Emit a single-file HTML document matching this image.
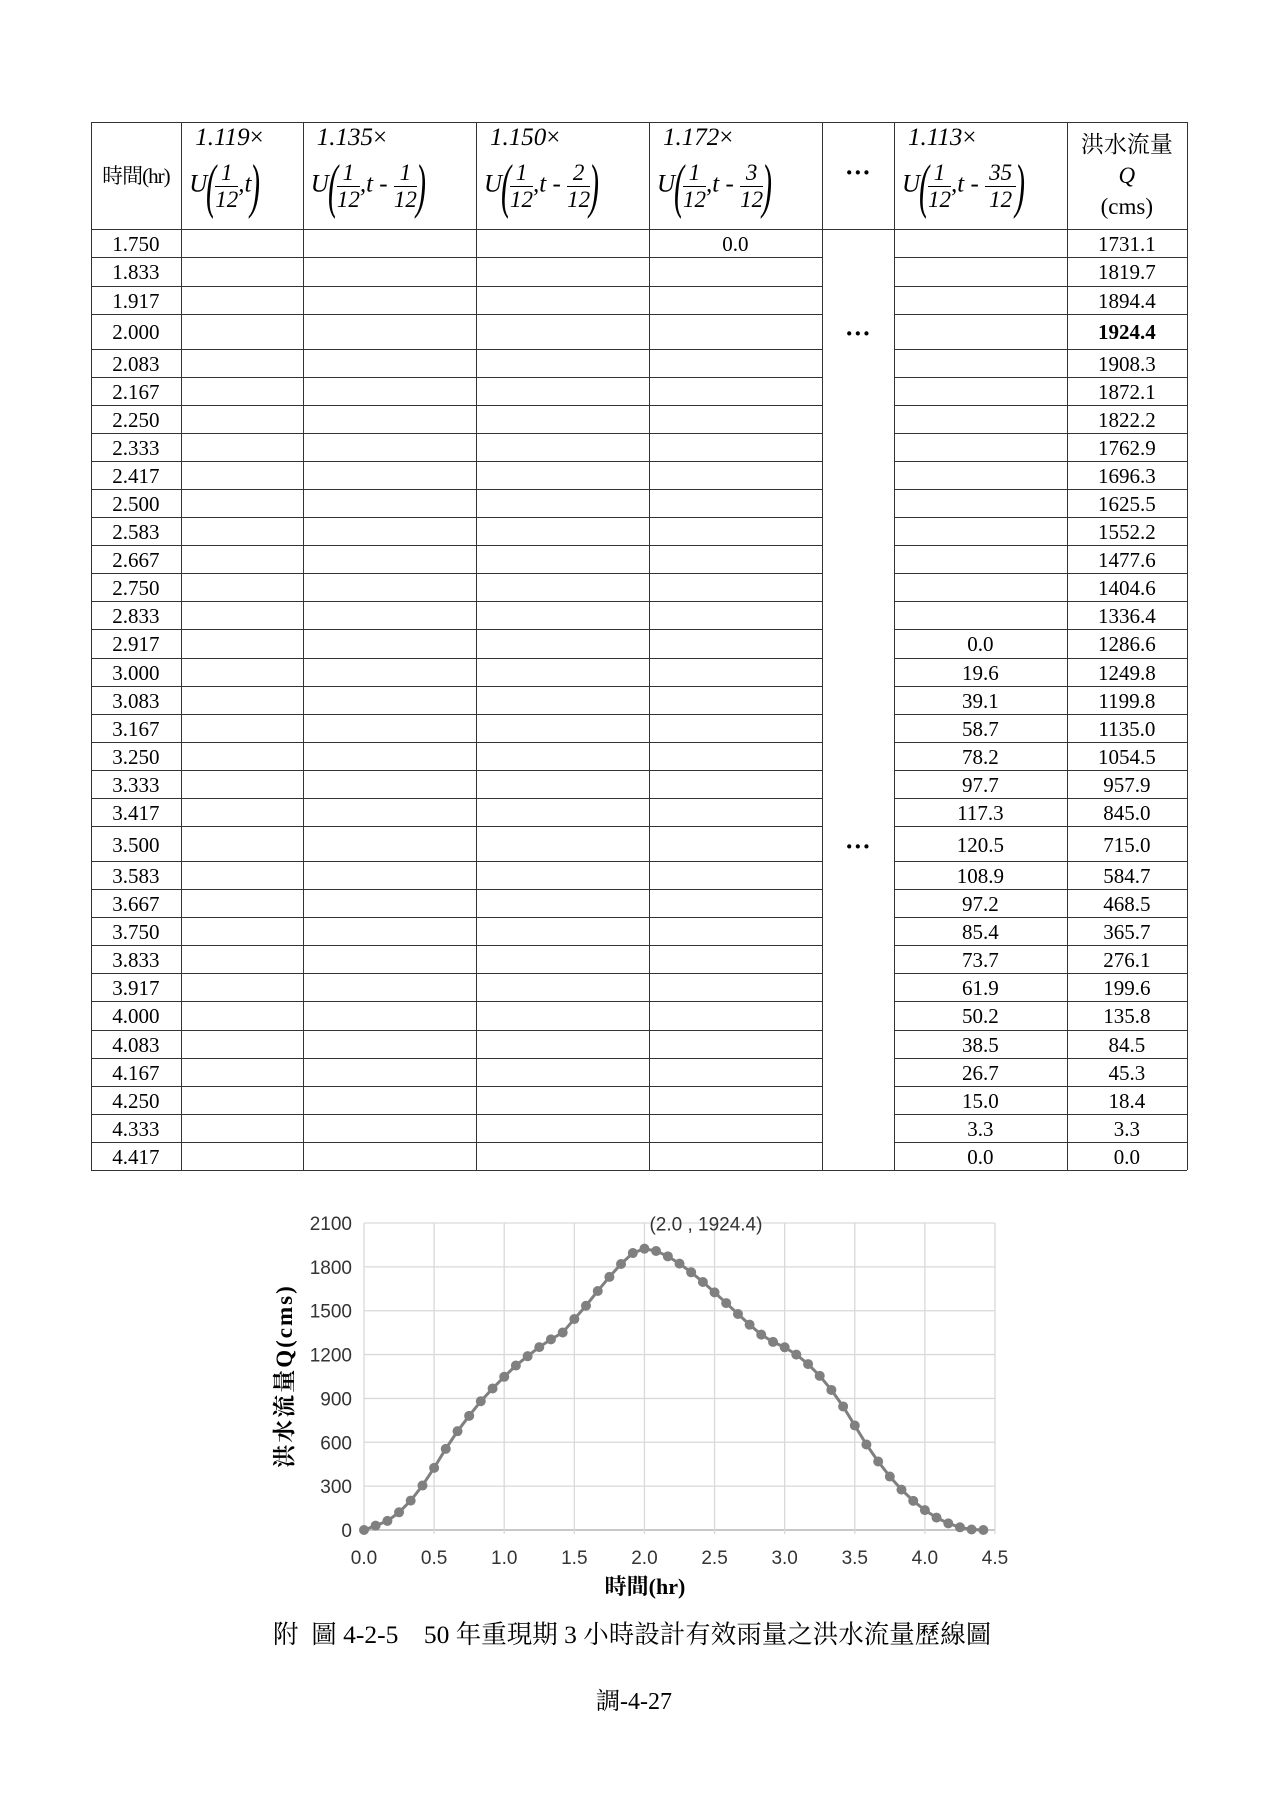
<!DOCTYPE html>
<html><head><meta charset="utf-8">
<style>
body{margin:0;width:1273px;height:1800px;background:#fff;position:relative;font-family:"Liberation Serif","Noto Serif CJK SC","Noto Sans CJK TC",serif;color:#000;overflow:hidden}
.ab{position:absolute}
.hl{position:absolute;height:0;border-top:1.3px solid #333}
.vl{position:absolute;width:0;border-left:1.3px solid #333}
.cell{position:absolute;text-align:center;font-size:21px;line-height:20px}
.frac{display:inline-block;vertical-align:middle;text-align:center;font-style:italic;font-size:23px;line-height:26px}
.frac span{display:block}
.frac .n{border-bottom:1px solid #000;padding:0 4px}
.par{display:inline-block;vertical-align:middle;font-size:60px;font-weight:100;transform:scaleX(0.5);line-height:60px;margin:0 -6px}
.form{position:absolute;white-space:nowrap;font-size:25px;font-style:italic}
</style></head><body>
<div id="tbl"></div>
<svg id="chart" class="ab" style="left:0;top:0" width="1273" height="1800"></svg>
<div class="ab" style="left:273px;top:1615px;font-size:25.5px;white-space:nowrap;font-family:'Liberation Serif','Noto Serif CJK TC','Noto Sans CJK TC',serif">附&nbsp; 圖 4-2-5&nbsp;&nbsp;&nbsp; 50 年重現期 3 小時設計有效雨量之洪水流量歷線圖</div>
<div class="ab" style="left:596px;top:1681px;font-size:24px;font-family:'Liberation Serif','Noto Serif CJK TC','Noto Sans CJK TC',serif">調-4-27</div>
<script>
const times=["1.750","1.833","1.917","2.000","2.083","2.167","2.250","2.333","2.417","2.500","2.583","2.667","2.750","2.833","2.917","3.000","3.083","3.167","3.250","3.333","3.417","3.500","3.583","3.667","3.750","3.833","3.917","4.000","4.083","4.167","4.250","4.333","4.417"];
const col35=["","","","","","","","","","","","","","","0.0","19.6","39.1","58.7","78.2","97.7","117.3","120.5","108.9","97.2","85.4","73.7","61.9","50.2","38.5","26.7","15.0","3.3","0.0"];
const qTable=["1731.1","1819.7","1894.4","1924.4","1908.3","1872.1","1822.2","1762.9","1696.3","1625.5","1552.2","1477.6","1404.6","1336.4","1286.6","1249.8","1199.8","1135.0","1054.5","957.9","845.0","715.0","584.7","468.5","365.7","276.1","199.6","135.8","84.5","45.3","18.4","3.3","0.0"];
const coefs=["1.119","1.135","1.150","1.172","1.113"];
const lags=["","1","2","3","35"];
const T=document.getElementById('tbl');
const X=[90.6,181.2,302.8,476,649,821.7,894,1066.7,1187];
const top0=121.6, hb=229.4;
function add(cls,st,html){const d=document.createElement('div');d.className=cls;d.setAttribute('style',st);if(html!==undefined)d.innerHTML=html;T.appendChild(d);return d;}
let ys=[hb];
times.forEach((t,i)=>{const h=(t==="2.000"||t==="3.500")?35.4:28.05;ys.push(ys[ys.length-1]+h);});
const bot=ys[ys.length-1];
let l=add('hl',`left:${X[0]}px;top:${top0}px;width:${X[8]-X[0]}px`);
X.forEach((x,i)=>{let v=add('vl',`left:${x}px;top:${top0}px;height:${bot-top0}px`);});
ys.forEach((y,i)=>{
  const full=(i===0||i===ys.length-1);
  if(full){let h=add('hl',`left:${X[0]}px;top:${y}px;width:${X[8]-X[0]}px`);}
  else{let h1=add('hl',`left:${X[0]}px;top:${y}px;width:${X[5]-X[0]}px`);
       let h2=add('hl',`left:${X[6]}px;top:${y}px;width:${X[8]-X[6]}px`);}
});
let hc=add('cell',`left:${X[0]}px;top:166px;width:${X[1]-X[0]}px;font-size:21px;letter-spacing:-1px;font-family:'Liberation Serif','Noto Serif CJK TC','Noto Sans CJK TC',serif`,'時間(hr)');

const colIdx=[1,2,3,4,6];
colIdx.forEach((ci,k)=>{
  let c=add('form',`left:${X[ci]+14}px;top:124px`,coefs[k]+'<span style="font-style:normal">×</span>');
  
  const lag=lags[k]?`,t - <span class="frac"><span class="n">${lags[k]}</span><span>12</span></span>`:',t';
  let f=add('form',`left:${X[ci]+8}px;top:156px`,`U<span class="par">(</span><span class="frac"><span class="n">1</span><span>12</span></span>${lag}<span class="par">)</span>`);
  
});
let dh=add('cell',`left:${X[5]}px;top:163px;width:${X[6]-X[5]}px;font-size:26px;font-weight:bold`,'···');

let qh=add('cell',`left:${X[7]}px;top:129px;width:${X[8]-X[7]}px;font-size:23px;line-height:31px;font-family:'Liberation Serif','Noto Serif CJK TC','Noto Sans CJK TC',serif`,'洪水流量<br><i>Q</i><br>(cms)');

times.forEach((t,i)=>{
  const y0=ys[i],y1=ys[i+1],cy=(y0+y1)/2-9;
  let a=add('cell',`left:${X[0]}px;top:${cy}px;width:${X[1]-X[0]}px`,t);
  if(i===0){let z=add('cell',`left:${X[4]}px;top:${cy}px;width:${X[5]-X[4]}px`,'0.0');}
  if(col35[i]){let b=add('cell',`left:${X[6]}px;top:${cy}px;width:${X[7]-X[6]}px`,col35[i]);}
  let q=add('cell',`left:${X[7]}px;top:${cy}px;width:${X[8]-X[7]}px;${t==="2.000"?'font-weight:bold':''}`,qTable[i]);
  if(t==="2.000"||t==="3.500"){let d=add('cell',`left:${X[5]}px;top:${cy+2}px;width:${X[6]-X[5]}px;font-size:26px;font-weight:bold`,'···');}
});
</script>
<script>
const chartT=[0,0.083,0.167,0.25,0.333,0.417,0.5,0.583,0.667,0.75,0.833,0.917,1.0,1.083,1.167,1.25,1.333,1.417,1.5,1.583,1.667,1.75,1.833,1.917,2.0,2.083,2.167,2.25,2.333,2.417,2.5,2.583,2.667,2.75,2.833,2.917,3.0,3.083,3.167,3.25,3.333,3.417,3.5,3.583,3.667,3.75,3.833,3.917,4.0,4.083,4.167,4.25,4.333,4.417];
const chartQ=[0,30,62,121,201,304,425,555,676,781,881,968,1048,1125,1189,1251,1304,1351,1443,1534,1635,1731.1,1819.7,1894.4,1924.4,1908.3,1872.1,1822.2,1762.9,1696.3,1625.5,1552.2,1477.6,1404.6,1336.4,1286.6,1249.8,1199.8,1135.0,1054.5,957.9,845.0,715.0,584.7,468.5,365.7,276.1,199.6,135.8,84.5,45.3,18.4,3.3,0.0];
const yTicks=[0,300,600,900,1200,1500,1800,2100];
const xTicks=[0,0.5,1.0,1.5,2.0,2.5,3.0,3.5,4.0,4.5];
const peakLabel="(2.0 , 1924.4)";
const S=document.getElementById('chart'),NS='http://www.w3.org/2000/svg';
const px0=364,px1=995,py0=1530,py1=1223;
const sx=v=>px0+(v-0)/4.5*(px1-px0);
const sy=v=>py0-(v-0)/2100*(py0-py1);
function el(tag,attrs,txt){const e=document.createElementNS(NS,tag);for(const k in attrs)e.setAttribute(k,attrs[k]);if(txt!==undefined)e.textContent=txt;S.appendChild(e);return e;}
yTicks.forEach(v=>{
  const g=el('line',{x1:px0,x2:px1,y1:sy(v),y2:sy(v),stroke:v===0?'#a6a6a6':'#d9d9d9','stroke-width':1.3});
  
  const t=el('text',{x:px0-12,y:sy(v)+7,'text-anchor':'end','font-size':19,'font-family':'Liberation Sans Narrow, Liberation Sans, sans-serif',fill:'#333'},String(v));
  
});
xTicks.forEach(v=>{
  const g=el('line',{x1:sx(v),x2:sx(v),y1:py1,y2:py0+4,stroke:'#d9d9d9','stroke-width':1.3});
  
  const t=el('text',{x:sx(v),y:py0+34,'text-anchor':'middle','font-size':19,'font-family':'Liberation Sans Narrow, Liberation Sans, sans-serif',fill:'#333'},v.toFixed(1));
  
});
const line=el('polyline',{points:chartT.map((t,i)=>sx(t)+','+sy(chartQ[i])).join(' '),fill:'none',stroke:'#808080','stroke-width':3});

chartT.forEach((t,i)=>{
  const c=el('circle',{cx:sx(t),cy:sy(chartQ[i]),r:5,fill:'#808080'});
  
});
const pk=el('text',{x:sx(2.0)+5,y:sy(1924.4)-18,'font-size':19,'font-family':'Liberation Sans Narrow, Liberation Sans, sans-serif',fill:'#333'},peakLabel);

const xt=el('text',{x:645,y:1594,'text-anchor':'middle','font-size':22,'font-weight':'bold','font-family':'Liberation Serif, Noto Serif CJK TC, serif'},'時間(hr)');

const yt=el('text',{x:0,y:0,'text-anchor':'middle','font-size':23,'font-weight':'bold','letter-spacing':'2','font-family':'Liberation Serif, Noto Serif CJK TC, serif',transform:'translate(292,1376) rotate(-90)'},'洪水流量Q(cms)');

</script>
</body></html>
